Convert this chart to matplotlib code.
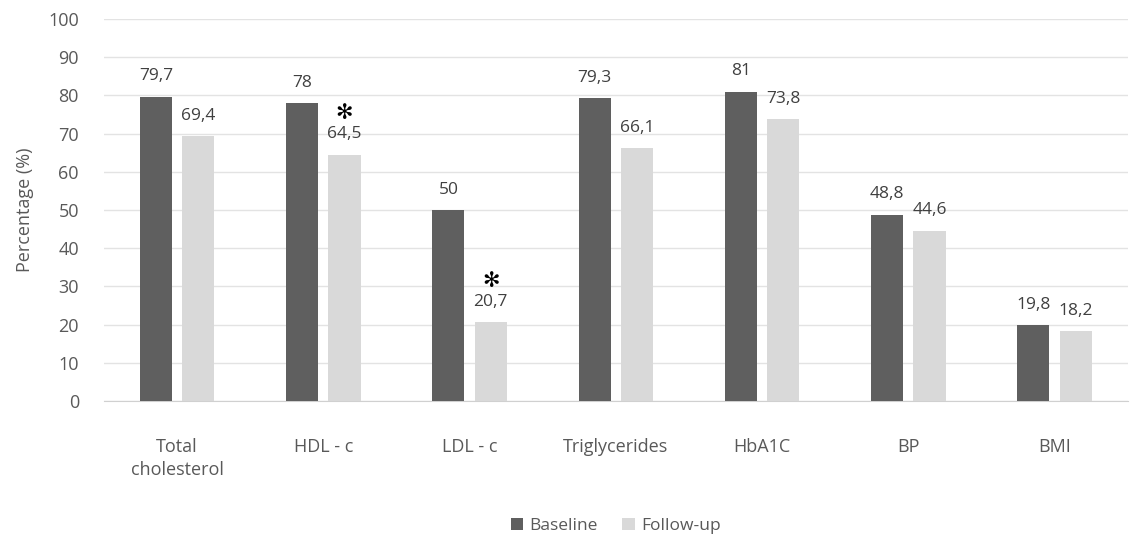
import numpy as np
import matplotlib.pyplot as plt

categories = ['Total\ncholesterol', 'HDL - c', 'LDL - c', 'Triglycerides', 'HbA1C', 'BP', 'BMI']
baseline = [79.7, 78, 50, 79.3, 81, 48.8, 19.8]
followup = [69.4, 64.5, 20.7, 66.1, 73.8, 44.6, 18.2]
significant = [False, True, True, False, False, False, False]


def fmt(v):
    s = f'{v:g}'
    return s.replace('.', ',')


plt.rcParams['font.family'] = ['Open Sans', 'DejaVu Sans']
text_col = '#595959'

fig = plt.figure(figsize=(11.4, 5.41), dpi=100)
ax = fig.add_axes([0.0912, 0.2588, 0.898, 0.7061])

x = np.arange(len(categories))
w = 0.22
off = 0.145
ax.bar(x - off, baseline, w, color='#5f5f5f', label='Baseline', zorder=3)
ax.bar(x + off, followup, w, color='#d9d9d9', label='Follow-up', zorder=3)

for xi, v in zip(x, baseline):
    ax.text(xi - off, v + 3.2, fmt(v), ha='center', va='bottom', fontsize=12.5, color='#404040')
for xi, v, sig in zip(x, followup, significant):
    ax.text(xi + off, v + 3.2, fmt(v), ha='center', va='bottom', fontsize=12.5, color='#404040')
    if sig:
        ax.text(xi + off, v + 8.2, '✻', ha='center', va='bottom', fontsize=15,
                color='black', family='DejaVu Sans', fontweight='bold')

ax.set_xlim(-0.5, len(categories) - 0.5)
ax.set_ylim(0, 100)
ax.set_yticks(np.arange(0, 101, 10))
ax.set_xticks(x)
ax.set_xticklabels(categories, linespacing=1.35)
ax.tick_params(length=0, labelsize=13, colors=text_col)
ax.tick_params(axis='x', pad=27)
ax.tick_params(axis='y', pad=18)
ax.yaxis.grid(True, color='#e3e3e3', linewidth=1, zorder=0)
for s in ['top', 'right', 'left']:
    ax.spines[s].set_visible(False)
ax.spines['bottom'].set_color('#d0d0d0')
ax.set_ylabel('Percentage (%)', fontsize=13, color=text_col, labelpad=10)

ax.legend(loc='upper center', bbox_to_anchor=(0.5, -0.265), ncol=2, frameon=False,
          fontsize=12.5, labelcolor=text_col, handlelength=0.7, handleheight=0.7,
          columnspacing=1.4, handletextpad=0.4)

fig.savefig('out.png', dpi=100)
